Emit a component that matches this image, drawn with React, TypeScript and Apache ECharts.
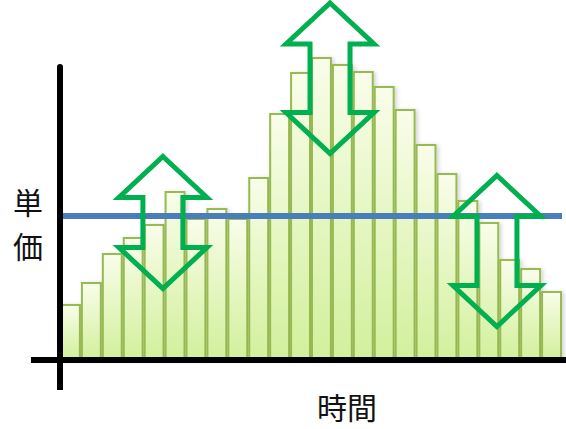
import React, { useEffect, useRef } from "react";
import * as echarts from "echarts";

const categories = ["1", "2", "3", "4", "5", "6", "7", "8", "9", "10", "11", "12", "13", "14", "15", "16", "17", "18", "19", "20", "21", "22", "23", "24"];
const values = [56, 78, 107, 123, 136, 169, 142, 152, 142, 183, 247, 288, 303, 296, 289, 274, 251, 216, 187, 160, 138, 101, 92, 69];
const averagePrice = 144;
const yMax = 293;
const xAxisTitle = "時間";
const yAxisTitleChars = ["単", "価"];
// arrows: fractional category position of the centre, top value, bottom value
const arrowCenters = [4.42, 12.41, 20.39];
const arrowTops = [203.5, 357, 184.5];
const arrowBottoms = [71.5, 206.5, 33.5];

const GREEN = "#00B050";

export default function App() {
  const ref = useRef<HTMLDivElement>(null);
  useEffect(() => {
    if (!ref.current) return;
    const chart = echarts.init(ref.current, null, { renderer: "svg" });
    chart.setOption({
      animation: false,
      grid: { left: 60, right: 4, top: 67, bottom: 69 },
      xAxis: {
        type: "category",
        data: categories,
        z: 10,
        axisLine: { show: true, lineStyle: { color: "#000", width: 6 } },
        axisTick: { show: false },
        axisLabel: { show: false },
        splitLine: { show: false },
      },
      yAxis: {
        type: "value",
        min: 0,
        max: yMax,
        z: 10,
        axisLine: { show: true, lineStyle: { color: "#000", width: 6 } },
        axisTick: { show: false },
        axisLabel: { show: false },
        splitLine: { show: false },
      },
      series: [
        {
          type: "bar",
          data: values,
          barWidth: "100%",
          clip: false,
          itemStyle: {
            color: new echarts.graphic.LinearGradient(0, 0, 0, 1, [
              { offset: 0, color: "#f9fdea" },
              { offset: 1, color: "#d2f09c" },
            ]),
            borderColor: "#97BA52",
            borderWidth: 2,
            shadowColor: "rgba(0,0,0,0.18)",
            shadowBlur: 4,
            shadowOffsetX: 2,
            shadowOffsetY: 1,
          },
          markLine: {
            silent: true,
            symbol: "none",
            label: { show: false },
            lineStyle: { color: "#4A7EBB", width: 6, type: "solid", opacity: 1 },
            emphasis: { disabled: true },
            data: [{ yAxis: averagePrice }],
          },
        },
      ],
    });

    const p0 = chart.convertToPixel({ gridIndex: 0 }, [0, 0]) as number[];
    const p1 = chart.convertToPixel({ gridIndex: 0 }, [1, 0]) as number[];
    const step = p1[0] - p0[0];
    const headH = 41;
    const headW = 44;
    const shaftW = 20;
    const arrows = arrowCenters.map((c, i) => {
      const cx = p0[0] + c * step;
      const yt = (chart.convertToPixel({ gridIndex: 0 }, [0, arrowTops[i]]) as number[])[1];
      const yb = (chart.convertToPixel({ gridIndex: 0 }, [0, arrowBottoms[i]]) as number[])[1];
      return {
        type: "polygon",
        z: 20,
        silent: true,
        shape: {
          points: [
            [cx, yt],
            [cx + headW, yt + headH],
            [cx + shaftW, yt + headH],
            [cx + shaftW, yb - headH],
            [cx + headW, yb - headH],
            [cx, yb],
            [cx - headW, yb - headH],
            [cx - shaftW, yb - headH],
            [cx - shaftW, yt + headH],
            [cx - headW, yt + headH],
          ],
        },
        style: { fill: "none", stroke: GREEN, lineWidth: 5, lineJoin: "miter" },
      };
    });

    const origin = chart.convertToPixel({ gridIndex: 0 }, [0, 0]) as number[];
    const baseY = origin[1];
    const axisX = 60;

    chart.setOption({
      graphic: [
        {
          type: "line",
          z: 15,
          shape: { x1: 31, y1: baseY, x2: axisX, y2: baseY },
          style: { stroke: "#000", lineWidth: 6 },
        },
        {
          type: "line",
          z: 15,
          shape: { x1: 560, y1: baseY, x2: 566, y2: baseY },
          style: { stroke: "#000", lineWidth: 6 },
        },
        {
          type: "line",
          z: 15,
          shape: { x1: axisX, y1: baseY, x2: axisX, y2: 390 },
          style: { stroke: "#000", lineWidth: 6 },
        },
        ...arrows,
        {
          type: "text",
          z: 20,
          x: 347,
          y: 406,
          style: {
            text: xAxisTitle,
            font: '30px "Noto Sans CJK JP"',
            fill: "#111",
            align: "center",
            verticalAlign: "middle",
          },
        },
        ...yAxisTitleChars.map((ch, i) => ({
          type: "text",
          z: 20,
          x: 28,
          y: 201 + i * 44,
          style: {
            text: ch,
            font: '30px "Noto Sans CJK JP"',
            fill: "#111",
            align: "center",
            verticalAlign: "middle",
          },
        })),
      ],
    });

    return () => chart.dispose();
  }, []);
  return (
    <div
      ref={ref}
      style={{ position: "fixed", left: 0, top: 0, width: 566, height: 429, background: "#fff" }}
    />
  );
}
